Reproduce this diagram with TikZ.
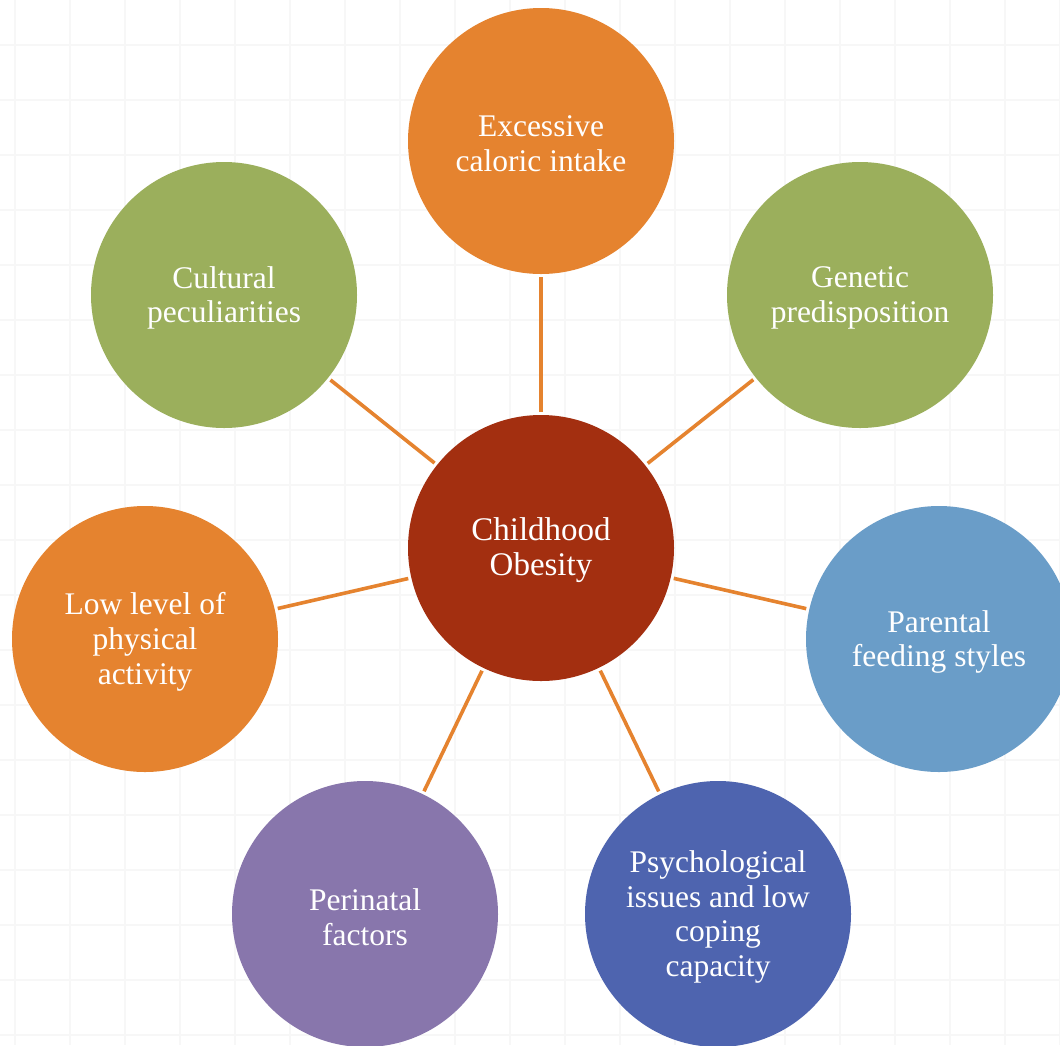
\documentclass[tikz,border=0pt]{standalone}
\usepackage{fontspec}
\setmainfont{Liberation Serif}
\definecolor{cOrange}{HTML}{E5832F}
\definecolor{cGreen}{HTML}{9BAF5C}
\definecolor{cLightBlue}{HTML}{6A9DC8}
\definecolor{cBlue}{HTML}{4E64AF}
\definecolor{cPurple}{HTML}{8876AC}
\definecolor{cRed}{HTML}{A32F10}
\definecolor{cGrid}{HTML}{F7F7F7}
\tikzset{
  bubble/.style={circle, minimum size=266pt, inner sep=0pt},
  label text/.style={text=white, align=center, font=\fontsize{31.5}{34.8}\selectfont},
  link/.style={draw=cOrange, line width=3.6pt, shorten <=3pt, shorten >=3pt},
}
\begin{document}
\begin{tikzpicture}[x=1pt,y=-1pt]
\useasboundingbox (0,0) rectangle (1060,1045);
\clip (0,0) rectangle (1060,1045);
\fill[white] (0,0) rectangle (1060,1045);
\foreach \k in {0,...,19} {
  \draw[cGrid, line width=1.4pt] (15+55*\k,0) -- (15+55*\k,1045);
  \draw[cGrid, line width=1.4pt] (0,45+55*\k) -- (1060,45+55*\k);
}
\node[bubble, fill=cRed] (center) at (541,548) {};
\node[label text, font=\fontsize{33}{35}\selectfont] (centerlabel) at ([yshift=-2pt]center.center) {Childhood\\Obesity};
\node[bubble, fill=cOrange] (calor) at (541,141) {};
\node[bubble, fill=cGreen] (gene) at (860,295) {};
\node[bubble, fill=cLightBlue] (parent) at (939,639) {};
\node[bubble, fill=cBlue] (psych) at (718,914) {};
\node[bubble, fill=cPurple] (peri) at (365,914) {};
\node[bubble, fill=cOrange] (low) at (145,639) {};
\node[bubble, fill=cGreen] (cult) at (224,295) {};
\foreach \n/\t in {calor/{Excessive\\caloric intake}, gene/{Genetic\\predisposition},
  parent/{Parental\\feeding styles}, psych/{Psychological\\issues and low\\coping\\capacity},
  peri/{Perinatal\\factors}, low/{Low level of\\physical\\activity}, cult/{Cultural\\peculiarities}}
  \node[label text] (\n label) at ([yshift=-3pt]\n.center) {\t};
\foreach \n in {calor,gene,parent,psych,peri,low,cult}
  \draw[link] (\n) -- (center);
\end{tikzpicture}
\end{document}
